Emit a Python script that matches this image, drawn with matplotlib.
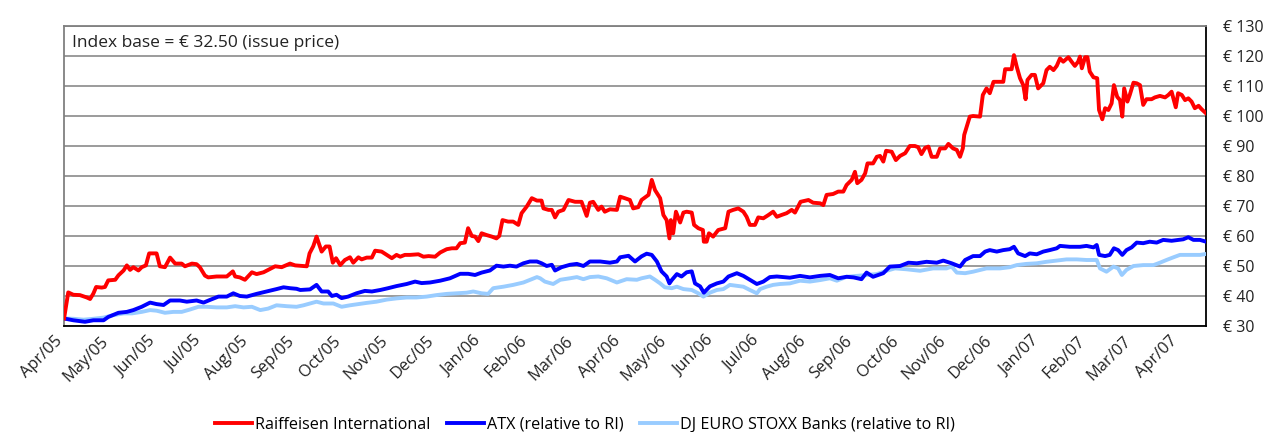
import matplotlib
matplotlib.use("Agg")
import matplotlib.pyplot as plt
import matplotlib.transforms as mtransforms

plt.rcParams['font.family'] = ['Open Sans', 'DejaVu Sans']

# x = months since issue (Apr/05 = 0)
ri_m = [0, 0.09, 0.20, 0.34, 0.49, 0.56, 0.63, 0.69, 0.81, 0.88, 0.95, 1.10, 1.17, 1.28, 1.35, 1.42,
        1.49, 1.60, 1.67, 1.76, 1.83, 1.99, 2.06, 2.17, 2.28, 2.39, 2.53, 2.60, 2.75, 2.85, 2.92, 3.03,
        3.10, 3.28, 3.50, 3.63, 3.68, 3.78, 3.89, 4.04, 4.14, 4.29, 4.39, 4.54, 4.68, 4.86, 4.97, 5.22,
        5.28, 5.36, 5.43, 5.54, 5.63, 5.71, 5.78, 5.85, 5.94, 6.04, 6.15, 6.22, 6.33, 6.40, 6.51, 6.62,
        6.69, 6.83, 6.94, 7.05, 7.15, 7.23, 7.33, 7.44, 7.62, 7.73, 7.84, 7.98, 8.09, 8.23, 8.34, 8.44,
        8.52, 8.62, 8.69, 8.77, 8.84, 8.91, 8.98, 9.09, 9.20, 9.30, 9.36, 9.43, 9.55, 9.66, 9.77, 9.84,
        9.95, 10.06, 10.17, 10.27, 10.31, 10.42, 10.49, 10.56, 10.63, 10.74, 10.85, 10.99, 11.13, 11.24,
        11.31, 11.38, 11.49, 11.56, 11.63, 11.74, 11.89, 11.96, 12.06, 12.17, 12.24, 12.35, 12.42, 12.57,
        12.64, 12.71, 12.82, 12.89, 12.96, 13.02, 13.05, 13.10, 13.16, 13.25, 13.32, 13.39, 13.50, 13.55,
        13.64, 13.74, 13.76, 13.82, 13.87, 13.96, 14.07, 14.22, 14.29, 14.39, 14.50, 14.61, 14.68, 14.75,
        14.86, 14.93, 15.04, 15.15, 15.25, 15.33, 15.43, 15.54, 15.65, 15.72, 15.84, 16.01, 16.11, 16.26,
        16.33, 16.40, 16.54, 16.65, 16.76, 16.83, 16.94, 17.01, 17.06, 17.15, 17.23, 17.28, 17.40, 17.48,
        17.55, 17.62, 17.68, 17.80, 17.89, 17.98, 18.09, 18.19, 18.30, 18.37, 18.44, 18.52, 18.59, 18.66,
        18.77, 18.84, 18.95, 19.02, 19.12, 19.20, 19.27, 19.33, 19.36, 19.48, 19.55, 19.70, 19.76, 19.84,
        19.91, 19.99, 20.20, 20.24, 20.38, 20.43, 20.49, 20.56, 20.63, 20.68, 20.72, 20.81, 20.88, 20.95,
        21.06, 21.13, 21.20, 21.28, 21.35, 21.42, 21.49, 21.60, 21.67, 21.74, 21.81, 21.85, 21.89, 21.96,
        22.01, 22.06, 22.14, 22.22, 22.26, 22.33, 22.39, 22.46, 22.53, 22.58, 22.65, 22.71, 22.76, 22.80,
        22.87, 22.92, 23.00, 23.07, 23.14, 23.21, 23.28, 23.39, 23.46, 23.57, 23.68, 23.75, 23.82, 23.91,
        23.96, 24.04, 24.11, 24.18, 24.25, 24.32, 24.40, 24.47, 24.56]
ri_v = [32.5, 41.2, 40.4, 40.3, 39.5, 39.0, 40.8, 43.0, 42.8, 43.0, 45.2, 45.4, 46.9, 48.5, 50.2, 48.7,
        49.6, 48.5, 49.6, 50.2, 54.2, 54.2, 49.9, 49.6, 52.8, 50.8, 50.8, 49.9, 50.8, 50.6, 49.6, 46.8,
        46.2, 46.5, 46.5, 48.2, 46.5, 46.2, 45.4, 47.9, 47.3, 47.9, 48.7, 49.9, 49.6, 50.8, 50.2, 49.9,
        54.2, 56.6, 59.8, 54.8, 56.5, 56.5, 51.1, 52.6, 50.3, 52.0, 52.9, 51.1, 52.9, 52.2, 52.8, 52.8,
        55.1, 54.8, 53.7, 52.6, 53.7, 53.1, 53.7, 53.7, 53.9, 53.1, 53.3, 53.1, 54.5, 55.6, 55.9, 55.9,
        57.6, 57.8, 62.6, 60.0, 59.8, 58.3, 60.9, 60.3, 59.8, 59.2, 60.0, 65.3, 64.8, 64.8, 63.7, 67.6,
        69.8, 72.6, 71.8, 71.8, 69.2, 68.7, 68.7, 66.2, 68.1, 68.7, 72.0, 71.4, 71.4, 66.7,
        71.1, 71.4, 68.7, 69.8, 68.1, 68.9, 68.7, 73.1, 72.6, 72.0, 69.2, 69.6, 72.0, 73.7,
        78.7, 75.3, 72.6, 67.0, 65.3, 59.2, 65.3, 60.9, 68.1, 64.5, 67.8, 68.1, 67.8, 63.7,
        62.6, 62.0, 58.1, 58.1, 60.9, 59.8, 62.0, 62.6, 68.1, 68.7, 69.2, 68.1, 66.4, 63.7,
        63.7, 66.2, 65.9, 67.0, 68.1, 66.4, 67.0, 67.6, 68.7, 67.8, 71.4, 72.0, 71.1, 70.9,
        70.3, 73.7, 74.0, 74.8, 74.8, 77.0, 78.7, 81.4, 77.6, 78.7, 80.9, 84.2, 84.2, 86.4,
        86.7, 84.8, 88.4, 88.1, 85.3, 86.7, 87.6, 90.0, 90.0, 89.6, 87.3, 89.4, 89.8, 86.4,
        86.4, 89.2, 89.2, 90.7, 89.2, 88.7, 86.4, 89.2, 93.7, 99.8, 100.0, 99.8, 107.0, 109.2,
        107.6, 111.4, 111.4, 115.6, 115.6, 120.3, 116.4, 112.6, 110.3, 105.6, 112.0, 113.7, 113.7, 109.2,
        110.9, 115.3, 116.4, 115.3, 116.7, 119.2, 118.1, 119.6, 118.1, 116.7, 118.1, 119.8, 115.9, 119.6,
        119.6, 114.8, 112.9, 112.6, 102.0, 98.9, 102.6, 102.0, 104.2, 110.3, 106.4, 105.3, 99.8, 109.2,
        104.8, 107.0, 111.1, 110.9, 110.3, 103.7, 105.6, 105.6, 106.2, 106.7, 106.2, 107.0, 108.1, 102.9,
        107.6, 107.0, 105.3, 105.9, 104.8, 102.6, 103.4, 102.2, 100.9]

atx_m = [0, 0.20, 0.45, 0.63, 0.85, 0.95, 1.17, 1.35, 1.49, 1.67, 1.85, 1.99, 2.14, 2.28, 2.49, 2.64,
         2.85, 3.00, 3.14, 3.32, 3.50, 3.64, 3.78, 3.93, 4.14, 4.36, 4.57, 4.72, 4.86, 5.00, 5.08, 5.29,
         5.43, 5.54, 5.68, 5.76, 5.86, 5.97, 6.11, 6.29, 6.47, 6.62, 6.80, 6.97, 7.15, 7.37, 7.55, 7.69,
         7.87, 8.09, 8.30, 8.52, 8.69, 8.84, 8.98, 9.16, 9.30, 9.45, 9.59, 9.73, 9.88, 10.02, 10.17, 10.27,
         10.38, 10.49, 10.56, 10.70, 10.88, 11.03, 11.17, 11.31, 11.53, 11.74, 11.89, 11.96, 12.14, 12.28,
         12.42, 12.53, 12.64, 12.75, 12.85, 12.96, 13.02, 13.07, 13.18, 13.28, 13.39, 13.50, 13.57, 13.68,
         13.76, 13.89, 14.04, 14.18, 14.29, 14.47, 14.61, 14.75, 14.90, 15.04, 15.18, 15.33, 15.40, 15.61,
         15.83, 16.04, 16.26, 16.47, 16.65, 16.83, 16.98, 17.15, 17.26, 17.40, 17.62, 17.76, 17.98, 18.16,
         18.34, 18.55, 18.77, 18.91, 19.09, 19.27, 19.38, 19.55, 19.70, 19.81, 19.91, 20.06, 20.20, 20.34,
         20.43, 20.52, 20.67, 20.77, 20.92, 21.06, 21.20, 21.35, 21.42, 21.63, 21.85, 21.99, 22.14, 22.21,
         22.26, 22.39, 22.49, 22.58, 22.67, 22.76, 22.85, 22.96, 23.07, 23.21, 23.35, 23.50, 23.64, 23.82,
         23.96, 24.07, 24.18, 24.29, 24.43, 24.56]
atx_v = [32.5, 31.9, 31.4, 31.9, 31.9, 33.0, 34.4, 34.7, 35.3, 36.4, 37.8, 37.3, 37.0, 38.5, 38.5, 38.1,
         38.5, 37.8, 38.7, 39.8, 39.8, 40.9, 40.0, 39.8, 40.7, 41.5, 42.3, 42.9, 42.6, 42.4, 42.0, 42.2,
         43.7, 41.5, 41.5, 40.0, 40.4, 39.3, 39.8, 40.9, 41.7, 41.5, 42.0, 42.6, 43.3, 44.0, 44.8, 44.3,
         44.5, 45.1, 45.9, 47.4, 47.4, 47.0, 47.8, 48.5, 50.1, 49.8, 50.1, 49.8, 50.9, 51.5, 51.5, 50.9,
         50.0, 50.4, 48.5, 49.6, 50.4, 50.7, 50.0, 51.5, 51.5, 51.1, 51.5, 52.9, 53.4, 51.5,
         53.2, 54.1, 53.7, 51.5, 48.2, 46.5, 44.2, 45.3, 47.3, 46.5, 47.9, 48.2, 44.2, 43.2,
         41.1, 43.2, 44.2, 44.8, 46.5, 47.6, 46.7, 45.4, 44.0, 44.8, 46.3, 46.5, 46.4, 46.1,
         46.7, 46.2, 46.7, 47.0, 45.9, 46.4, 46.2, 45.6, 47.8, 46.4, 47.6, 49.8, 50.0, 51.1,
         50.9, 51.4, 51.1, 51.8, 50.9, 49.8, 52.0, 53.3, 53.3, 54.8, 55.3, 54.8, 55.3, 55.6,
         56.4, 54.2, 53.3, 54.2, 53.9, 54.8, 55.3, 55.9, 56.7, 56.4, 56.4, 56.7, 56.2, 57.0,
         53.7, 53.3, 53.7, 55.9, 55.3, 53.7, 55.3, 56.2, 57.8, 57.6, 58.1, 57.8, 58.7, 58.4,
         58.7, 58.9, 59.6, 58.7, 58.7, 58.1]

dj_m = [0, 0.20, 0.42, 0.63, 0.85, 1.06, 1.28, 1.46, 1.67, 1.85, 1.99, 2.17, 2.35, 2.53, 2.71, 2.89,
        3.07, 3.28, 3.50, 3.68, 3.86, 4.04, 4.22, 4.39, 4.57, 4.79, 5.00, 5.15, 5.29, 5.43, 5.58, 5.79,
        5.97, 6.15, 6.33, 6.51, 6.72, 6.94, 7.15, 7.37, 7.58, 7.80, 8.01, 8.23, 8.44, 8.66, 8.80, 8.98,
        9.12, 9.23, 9.45, 9.66, 9.88, 10.06, 10.17, 10.24, 10.34, 10.52, 10.67, 10.88, 11.03, 11.17, 11.31,
        11.49, 11.67, 11.89, 12.10, 12.32, 12.42, 12.60, 12.71, 12.82, 12.92, 13.07, 13.18, 13.32, 13.50,
        13.64, 13.75, 13.89, 14.04, 14.18, 14.32, 14.47, 14.61, 14.75, 14.90, 14.97, 15.11, 15.25, 15.40,
        15.61, 15.83, 16.04, 16.26, 16.47, 16.62, 16.83, 17.05, 17.26, 17.48, 17.69, 17.87, 18.12, 18.41,
        18.69, 18.98, 19.09, 19.20, 19.38, 19.55, 19.84, 19.91, 20.13, 20.34, 20.49, 20.70, 20.92, 21.13,
        21.35, 21.56, 21.78, 21.99, 22.21, 22.28, 22.42, 22.57, 22.67, 22.75, 22.85, 23.00, 23.21, 23.43,
        23.57, 23.71, 23.86, 24.00, 24.22, 24.43, 24.56]
dj_v = [32.5, 32.4, 32.1, 32.4, 32.8, 33.6, 34.2, 34.2, 34.7, 35.3, 35.1, 34.4, 34.7, 34.7, 35.5, 36.4,
        36.4, 36.2, 36.2, 36.6, 36.2, 36.4, 35.3, 35.8, 36.9, 36.6, 36.4, 36.9, 37.5, 38.1, 37.5, 37.5,
        36.4, 36.9, 37.3, 37.7, 38.1, 38.8, 39.2, 39.5, 39.5, 39.8, 40.3, 40.7, 40.9, 41.1, 41.5, 40.9,
        40.7, 42.6, 43.1, 43.7, 44.5, 45.6, 46.3, 45.9, 44.8, 44.0, 45.4, 45.9, 46.3, 45.6, 46.3,
        46.5, 45.9, 44.5, 45.6, 45.4, 45.9, 46.5, 45.4, 44.2, 42.9, 42.6, 43.1, 42.3, 42.0,
        40.9, 39.8, 41.1, 42.0, 42.3, 43.7, 43.4, 43.1, 42.0, 40.9, 42.3, 43.1, 43.7, 44.0,
        44.2, 45.1, 44.8, 45.3, 45.9, 45.1, 46.4, 46.7, 47.0, 47.3, 48.4, 49.2, 48.9, 48.4,
        49.2, 49.2, 49.8, 47.8, 47.6, 48.1, 49.2, 49.2, 49.2, 49.6, 50.3, 50.7, 50.9, 51.4,
        51.8, 52.2, 52.2, 52.0, 52.0, 49.2, 48.1, 49.8, 49.2, 47.0, 48.7, 50.0, 50.3, 50.3,
        51.1, 52.0, 52.9, 53.7, 53.7, 53.7, 54.0]

month_labels = ['Apr/05', 'May/05', 'Jun/05', 'Jul/05', 'Aug/05', 'Sep/05', 'Oct/05', 'Nov/05',
                'Dec/05', 'Jan/06', 'Feb/06', 'Mar/06', 'Apr/06', 'May/06', 'Jun/06', 'Jul/06',
                'Aug/06', 'Sep/06', 'Oct/06', 'Nov/06', 'Dec/06', 'Jan/07', 'Feb/07', 'Mar/07', 'Apr/07']
y_ticks = [30, 40, 50, 60, 70, 80, 90, 100, 110, 120, 130]

fig = plt.figure(figsize=(12.66, 4.32), dpi=100)
ax = fig.add_axes([0.0506, 0.2454, 0.902, 0.6944])

ax.plot(dj_m, dj_v, color='#99CCFF', lw=2.8, label='DJ EURO STOXX Banks (relative to RI)', zorder=3)
ax.plot(atx_m, atx_v, color='#0000FF', lw=2.8, label='ATX (relative to RI)', zorder=4)
ax.plot(ri_m, ri_v, color='#FF0000', lw=2.8, label='Raiffeisen International', zorder=5)

ax.set_xlim(0, 24.56)
ax.set_ylim(30, 130)
ax.set_yticks(y_ticks)
ax.set_yticklabels(['€ %d' % v for v in y_ticks])
ax.yaxis.tick_right()
ax.tick_params(axis='y', length=0, pad=12, labelsize=11.5, labelcolor='#222222')
ax.set_xticks(range(len(month_labels)))
ax.set_xticklabels(month_labels, rotation=45, ha='right', va='top', rotation_mode='anchor')
ax.tick_params(axis='x', length=0, pad=5, labelsize=11.8, labelcolor='#222222')
shift = mtransforms.ScaledTranslation(-0.1, 0, fig.dpi_scale_trans)
for lab in ax.get_xticklabels():
    lab.set_transform(lab.get_transform() + shift)
ax.grid(axis='y', color='#808080', lw=1.1)
ax.set_axisbelow(True)

for side in ['left', 'top']:
    ax.spines[side].set_color('#808080')
    ax.spines[side].set_linewidth(1.3)
for side in ['right', 'bottom']:
    ax.spines[side].set_color('#000000')
    ax.spines[side].set_linewidth(1.3)

ax.text(0.17, 124.4, 'Index base = € 32.50 (issue price)', fontsize=12.5, color='#222222',
        va='center', ha='left')

handles, labels = ax.get_legend_handles_labels()
fig.legend(handles[::-1], labels[::-1], loc='lower center', bbox_to_anchor=(0.462, -0.035),
           ncol=3, frameon=False, fontsize=11.6, handlelength=2.3, handletextpad=0.2,
           columnspacing=1.0)

fig.savefig('out.png', dpi=100)
